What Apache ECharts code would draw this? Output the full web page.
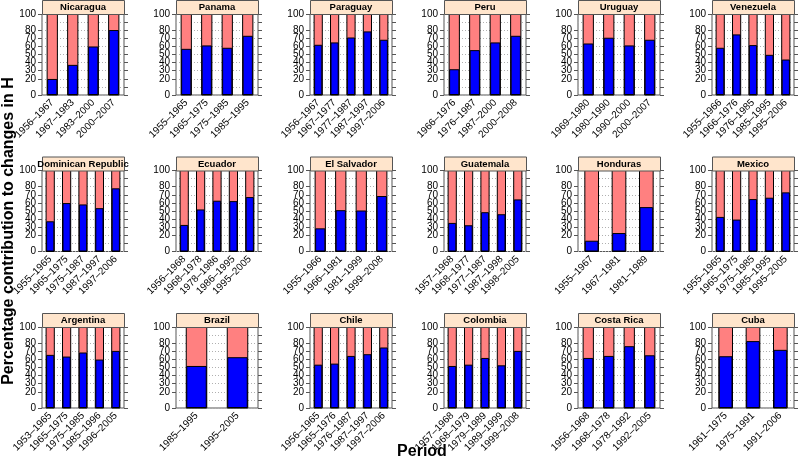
<!DOCTYPE html>
<html><head><meta charset="utf-8">
<script src="https://cdn.jsdelivr.net/npm/echarts@6/dist/echarts.min.js"></script>
<style>html,body{margin:0;padding:0;background:#fff}#c{width:800px;height:463px}</style>
</head><body><div id="c"></div><script>
// ---- data ----
const panelNames = ['Nicaragua','Panama','Paraguay','Peru','Uruguay','Venezuela',
  'Dominican Republic','Ecuador','El Salvador','Guatemala','Honduras','Mexico',
  'Argentina','Brazil','Chile','Colombia','Costa Rica','Cuba'];

const nicaraguaPeriods = ['1956–1967','1967–1983','1983–2000','2000–2007'];
const nicaraguaValues  = [19.8, 37.2, 59.9, 80.2];
const panamaPeriods = ['1955–1965','1965–1975','1975–1985','1985–1995'];
const panamaValues  = [57.0, 61.2, 58.3, 73.1];
const paraguayPeriods = ['1956–1967','1967–1977','1977–1987','1987–1997','1997–2006'];
const paraguayValues  = [62.0, 64.9, 71.0, 78.5, 68.2];
const peruPeriods = ['1966–1976','1976–1987','1987–2000','2000–2008'];
const peruValues  = [31.8, 55.4, 64.9, 73.1];
const uruguayPeriods = ['1969–1980','1980–1990','1990–2000','2000–2007'];
const uruguayValues  = [63.6, 70.7, 61.2, 68.2];
const venezuelaPeriods = ['1955–1966','1966–1976','1976–1985','1985–1995','1995–2006'];
const venezuelaValues  = [58.3, 74.8, 61.6, 49.6, 43.8];

const dominicanPeriods = ['1955–1965','1965–1975','1975–1987','1987–1997','1997–2006'];
const dominicanValues  = [37.3, 59.8, 58.1, 53.5, 78.0];
const ecuadorPeriods = ['1956–1968','1968–1978','1978–1986','1986–1995','1995–2005'];
const ecuadorValues  = [32.8, 51.9, 62.7, 62.2, 67.2];
const elSalvadorPeriods = ['1955–1966','1966–1981','1981–1999','1999–2008'];
const elSalvadorValues  = [28.6, 51.0, 50.6, 68.5];
const guatemalaPeriods = ['1957–1968','1968–1977','1977–1987','1987–1998','1998–2005'];
const guatemalaValues  = [35.3, 32.4, 48.5, 46.0, 64.3];
const hondurasPeriods = ['1955–1967','1967–1981','1981–1989'];
const hondurasValues  = [13.3, 22.8, 54.8];
const mexicoPeriods = ['1955–1965','1965–1975','1975–1985','1985–1995','1995–2005'];
const mexicoValues  = [42.7, 39.4, 64.7, 66.4, 73.0];

const argentinaPeriods = ['1953–1965','1965–1975','1975–1985','1985–1996','1996–2005'];
const argentinaValues  = [65.6, 63.5, 68.5, 59.8, 70.5];
const brazilPeriods = ['1985–1995','1995–2005'];
const brazilValues  = [51.9, 62.7];
const chilePeriods = ['1956–1965','1965–1976','1976–1987','1987–1997','1997–2006'];
const chileValues  = [53.5, 54.8, 64.3, 66.4, 74.7];
const colombiaPeriods = ['1957–1968','1968–1979','1979–1989','1989–1999','1999–2008'];
const colombiaValues  = [51.9, 53.5, 61.8, 52.7, 70.5];
const costaRicaPeriods = ['1956–1968','1968–1978','1978–1992','1992–2005'];
const costaRicaValues  = [61.8, 64.3, 76.3, 65.1];
const cubaPeriods = ['1961–1975','1975–1991','1991–2006'];
const cubaValues  = [63.9, 82.6, 71.8];

const yMin = 0, yMax = 100, yStep = 10;
const yTitle = 'Percentage contribution to changes in H';
const xTitle = 'Period';

const panelPeriods = [nicaraguaPeriods, panamaPeriods, paraguayPeriods, peruPeriods, uruguayPeriods, venezuelaPeriods,
  dominicanPeriods, ecuadorPeriods, elSalvadorPeriods, guatemalaPeriods, hondurasPeriods, mexicoPeriods,
  argentinaPeriods, brazilPeriods, chilePeriods, colombiaPeriods, costaRicaPeriods, cubaPeriods];
const panelValues = [nicaraguaValues, panamaValues, paraguayValues, peruValues, uruguayValues, venezuelaValues,
  dominicanValues, ecuadorValues, elSalvadorValues, guatemalaValues, hondurasValues, mexicoValues,
  argentinaValues, brazilValues, chileValues, colombiaValues, costaRicaValues, cubaValues];

// ---- layout ----
const FONT = '"Liberation Sans", Arial, Helvetica, sans-serif';
const left0 = 42, colStep = 134, pw = 82;
const top0 = 14, rowStep = 156.5, ph = 81, stripH = 14;
const frame = '#555';

const grid = [], xAxis = [], yAxis = [], series = [], graphic = [];
panelNames.forEach((name, i) => {
  const c = i % 6, r = Math.floor(i / 6);
  const L = left0 + c * colStep, T = top0 + r * rowStep;
  grid.push({left: L, top: T, width: pw, height: ph, show: true, borderColor: frame, borderWidth: 1, backgroundColor: 'transparent'});
  xAxis.push({type: 'category', gridIndex: i, data: panelPeriods[i],
    axisLine: {show: false}, axisTick: {show: false},
    axisLabel: {interval: 0, rotate: 45, fontSize: 10, color: '#000', fontFamily: FONT, margin: 6, hideOverlap: false}});
  yAxis.push({type: 'value', gridIndex: i, min: yMin, max: yMax, interval: yStep, position: 'left',
    axisLine: {show: false}, axisTick: {show: true, length: 4, lineStyle: {color: frame}},
    axisLabel: {fontSize: 10, color: '#000', fontFamily: FONT, margin: 6, showMinLabel: true, showMaxLabel: true, hideOverlap: false},
    splitLine: {show: true, lineStyle: {color: '#b0b0b0', type: [1, 2], width: 1}}});
  yAxis.push({type: 'value', gridIndex: i, min: yMin, max: yMax, interval: yStep, position: 'right',
    axisLine: {show: false}, axisTick: {show: true, length: 4, lineStyle: {color: frame}},
    axisLabel: {show: false}, splitLine: {show: false}});
  series.push({type: 'bar', xAxisIndex: i, yAxisIndex: 2 * i, data: panelValues[i], barWidth: '50%',
    itemStyle: {color: '#0000FF', borderColor: '#000', borderWidth: 1},
    showBackground: true,
    backgroundStyle: {color: '#FF8080', borderColor: '#000', borderWidth: 1, opacity: 1},
    silent: true, animation: false});
  graphic.push({type: 'rect', left: L, top: T - stripH, z: 10,
    shape: {width: pw, height: stripH},
    style: {fill: '#FFE5CC', stroke: frame, lineWidth: 1}});
  graphic.push({type: 'text', x: L + pw / 2, y: T - stripH / 2 + 0.5, z: 11,
    style: {text: name, fill: '#000', font: 'bold 9.5px ' + FONT, textAlign: 'center', textVerticalAlign: 'middle'}});
});
graphic.push({type: 'text', x: 9, y: 231, rotation: Math.PI / 2, z: 11,
  style: {text: yTitle, fill: '#000', font: 'bold 16px ' + FONT, textAlign: 'center', textVerticalAlign: 'middle'}});
graphic.push({type: 'text', x: 422, y: 452, z: 11,
  style: {text: xTitle, fill: '#000', font: 'bold 16px ' + FONT, textAlign: 'center', textVerticalAlign: 'middle'}});

const chart = echarts.init(document.getElementById('c'), null, {renderer: 'canvas'});
chart.setOption({animation: false, backgroundColor: '#fff', grid, xAxis, yAxis, series, graphic});
</script></body></html>
